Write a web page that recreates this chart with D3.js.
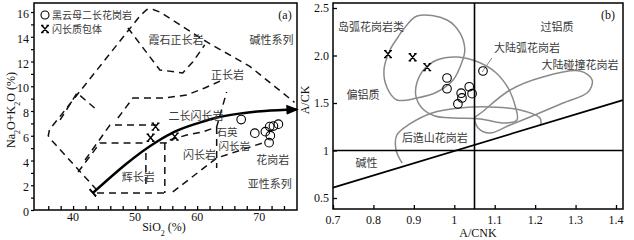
<!DOCTYPE html>
<html><head><meta charset="utf-8">
<script src="https://cdn.jsdelivr.net/npm/d3@7"></script>
<style>
body{margin:0;background:#fff;}
svg{display:block;}
.num{font-family:"Liberation Serif","DejaVu Serif",serif;font-size:12px;fill:#111;}
.cn{font-family:"Noto Sans CJK SC",sans-serif;font-size:11px;fill:#3a3a3a;}
.lg{font-family:"Noto Sans CJK SC",sans-serif;font-size:10px;fill:#3a3a3a;}
</style>
</head><body>
<svg id="c" width="634" height="240"></svg>
<script>
// ---------- Panel (a) data: SiO2 vs Na2O+K2O ----------
const graniteSiO2 = [67.1, 69.3, 71.0, 71.7, 72.3, 73.1, 71.8, 71.6];
const graniteAlk  = [7.31, 6.21, 6.33, 6.74, 6.78, 6.94, 6.01, 5.44];
const enclaveSiO2 = [53.3, 52.5, 56.4];
const enclaveAlk  = [6.74, 5.84, 5.93];
const boundarySiO2 = [43.2, 53.5, 56.4, 60.4, 63.2, 66.8, 70.9, 76.0];
const boundaryAlk  = [1.38, 5.52, 6.33, 7.06, 7.47, 7.79, 8.0, 8.12];
const xTicksA = [40, 50, 60, 70];
const yTicksA = [0, 2, 4, 6, 8, 10, 12, 14, 16];
// field outlines (SiO2, alkali pairs)
const fieldLines = [
  [[43.86,1.6],[36.6,5.6],[36.0,6.0],[36.2,6.5],[50.8,15.7],[51.9,16.2],[52.9,16.2],[54.0,16.0],[61.5,13.6],[68.5,11.6],[75.7,8.7]],
  [[48.84,14.71],[53.99,11.32],[57.68,11.08],[59.29,11.96],[61.22,13.34]],
  [[37.91,7.28],[40.64,9.46],[43.86,8.08]],
  [[47.23,7.44],[49.65,9.05],[54.79,9.05],[58.33,9.30],[61.22,9.86],[64.12,10.51]],
  [[41.93,4.04],[45.95,6.87],[53.50,6.87]],
  [[40.80,3.07],[44.34,5.42],[51.90,5.42]],
  [[51.74,4.61],[51.74,1.78]],
  [[43.86,1.37],[54.79,1.37]],
  [[54.79,5.42],[54.79,1.37]],
  [[53.99,5.42],[55.59,5.42]],
  [[56.08,1.46],[63.15,4.2],[70.55,5.42]],
  [[63.15,6.71],[63.15,3.40]],
  [[55.59,5.66],[58.33,6.06],[60.90,6.31],[63.15,6.71],[64.76,9.54]]
];
const labelsA = [
  ["霞石正长岩", 56.6, 13.42], ["正长岩", 64.9, 10.59], ["碱性系列", 72.0, 13.42],
  ["二长闪长岩", 59.8, 7.28], ["石英", 64.8, 6.02], ["闪长岩", 66.0, 4.85],
  ["闪长岩", 60.4, 4.12], ["辉长岩", 50.5, 2.34], ["花岗岩", 72.2, 3.72], ["亚性系列", 71.7, 1.78]
];

// ---------- Panel (b) data: A/CNK vs A/NK ----------
const graniteACNK = [0.982, 0.982, 1.017, 1.019, 1.009, 1.037, 1.044, 1.071];
const graniteANK  = [1.763, 1.650, 1.603, 1.553, 1.490, 1.671, 1.598, 1.837];
const enclaveACNK = [0.836, 0.897, 0.933];
const enclaveANK  = [2.015, 1.982, 1.878];
const xTicksB = [0.7, 0.8, 0.9, 1.0, 1.1, 1.2, 1.3, 1.4];
const yTicksB = [0.5, 1.0, 1.5, 2.0, 2.5];
const divideLine = [[0.7, 0.61], [1.417, 1.53]];
const iagField = [[0.873,2.268],[0.908,2.416],[0.982,2.374],[1.014,2.237],[1.026,2.058],[1.019,1.932],[0.997,1.742],[0.957,1.616],[0.908,1.553],[0.858,1.532],[0.834,1.658],[0.826,1.847],[0.841,2.058],[0.861,2.195]];
const cagField = [[0.928,1.868],[0.957,1.953],[1.007,1.984],[1.059,1.932],[1.101,1.826],[1.133,1.658],[1.150,1.479],[1.155,1.321],[1.125,1.289],[1.064,1.332],[1.002,1.342],[0.952,1.363],[0.920,1.447],[0.905,1.574],[0.908,1.721]];
const ccgField = [[1.069,1.405],[1.138,1.637],[1.219,1.774],[1.311,1.837],[1.341,1.742],[1.331,1.616],[1.269,1.5],[1.205,1.384],[1.138,1.268],[1.088,1.184],[1.059,1.237],[1.051,1.342]];
const pogField = [[0.871,0.868],[0.856,1.005],[0.858,1.163],[0.890,1.279],[0.945,1.395],[1.014,1.447],[1.088,1.458],[1.163,1.426],[1.212,1.342],[1.214,1.268]];
const cagLeader = [[1.093,1.974],[1.069,1.826]];
const labelsB = [
  ["岛弧花岗岩类", 0.794, 2.258], ["偏铝质", 0.774, 1.542], ["过铝质", 1.254, 2.258],
  ["大陆弧花岗岩", 1.180, 2.037], ["大陆碰撞花岗岩", 1.311, 1.858], ["后造山花岗岩", 0.952, 1.089], ["碱性", 0.783, 0.826]
];

const svg = d3.select("#c");
const defs = svg.append("defs");
defs.append("marker").attr("id","arr").attr("viewBox","0 0 10 10")
  .attr("refX",8).attr("refY",5).attr("markerWidth",5).attr("markerHeight",5).attr("orient","auto")
  .append("path").attr("d","M0,1 L10,5 L0,9 z").attr("fill","#000");
defs.append("marker").attr("id","bar").attr("viewBox","0 0 4 10").attr("markerUnits","userSpaceOnUse")
  .attr("refX",2).attr("refY",5).attr("markerWidth",4).attr("markerHeight",10).attr("orient","auto")
  .append("path").attr("d","M2,0 L2,10").attr("stroke","#000").attr("stroke-width",2);
const crossPath = "M-3,-3.5L3,3.5M3,-3.5L-3,3.5M-4,-3.5H-1.5M1.5,-3.5H4M-4,3.5H-1.5M1.5,3.5H4";

// ===== Panel (a) =====
const xA = d3.scaleLinear().domain([33.7, 76.1]).range([34, 297]);
const yA = d3.scaleLinear().domain([0, 16.73]).range([210, 3]);
const gA = svg.append("g");
gA.append("rect").attr("x",34).attr("y",3).attr("width",263).attr("height",207)
  .attr("fill","none").attr("stroke","#000").attr("stroke-width",1.5);
gA.append("g").attr("transform","translate(0,210)")
  .call(d3.axisBottom(xA).tickValues(d3.range(36,76,2)).tickSize(-4).tickFormat(""))
  .call(g=>{g.select(".domain").remove(); g.selectAll("line").attr("stroke","#000").attr("stroke-width",1.3);});
gA.selectAll(".xl").data(xTicksA).join("text").attr("class","num")
  .attr("x",d=>xA(d)).attr("y",221).attr("text-anchor","middle").text(d=>d);
gA.append("g").attr("transform","translate(34,0)")
  .call(d3.axisLeft(yA).tickValues(d3.range(0,17,1)).tickSize(3).tickFormat(""))
  .call(g=>{g.select(".domain").remove(); g.selectAll("line").attr("stroke","#000").attr("stroke-width",1.2);});
gA.selectAll(".yl").data(yTicksA).join("text").attr("class","num")
  .attr("x",29).attr("y",d=>yA(d)+6).attr("text-anchor","end").text(d=>d);
gA.append("text").attr("class","num").attr("transform","translate(15,110) rotate(-90)")
  .attr("text-anchor","middle").html('Na<tspan baseline-shift="sub" font-size="8">2</tspan>O+K<tspan baseline-shift="sub" font-size="8">2</tspan>O (%)');
gA.append("text").attr("class","num").attr("x",164).attr("y",231).attr("text-anchor","middle")
  .html('SiO<tspan baseline-shift="sub" font-size="8">2</tspan> (%)');

const lineA = d3.line().x(d=>xA(d[0])).y(d=>yA(d[1]));
gA.selectAll(".fl").data(fieldLines).join("path").attr("d",lineA)
  .attr("fill","none").attr("stroke","#111").attr("stroke-width",1.5).attr("stroke-dasharray","7,5");
const bPts = boundarySiO2.map((s,i)=>[s,boundaryAlk[i]]);
gA.append("path").attr("d",d3.line().x(d=>xA(d[0])).y(d=>yA(d[1])).curve(d3.curveMonotoneX)(bPts))
  .attr("fill","none").attr("stroke","#000").attr("stroke-width",2.5)
  .attr("marker-end","url(#arr)").attr("marker-start","url(#bar)");
gA.selectAll(".lab").data(labelsA).join("text").attr("class","cn")
  .attr("x",d=>xA(d[1])).attr("y",d=>yA(d[2])).attr("text-anchor","middle")
  .style("font-size",d=>(d[0]==="石英"||(d[0]==="闪长岩"&&d[1]>65))?"10.5px":null).text(d=>d[0]);
gA.append("text").attr("class","num").attr("x",285).attr("y",19).attr("text-anchor","middle").text("(a)");
gA.selectAll(".gc").data(graniteSiO2).join("circle")
  .attr("cx",d=>xA(d)).attr("cy",(d,i)=>yA(graniteAlk[i])).attr("r",4.3)
  .attr("fill","none").attr("stroke","#000").attr("stroke-width",1.1);
gA.selectAll(".ec").data(enclaveSiO2).join("path").attr("d",crossPath)
  .attr("transform",(d,i)=>`translate(${xA(d)},${yA(enclaveAlk[i])})`)
  .attr("fill","none").attr("stroke","#000").attr("stroke-width",1.4);
gA.append("circle").attr("cx",45).attr("cy",15).attr("r",4).attr("fill","none").attr("stroke","#000").attr("stroke-width",1.1);
gA.append("text").attr("class","lg").attr("x",52).attr("y",19).text("黑云母二长花岗岩");
gA.append("path").attr("d",crossPath).attr("transform","translate(45,29)").attr("fill","none").attr("stroke","#000").attr("stroke-width",1.4);
gA.append("text").attr("class","lg").attr("x",52).attr("y",33).text("闪长质包体");

// ===== Panel (b) =====
const xB = d3.scaleLinear().domain([0.7, 1.4]).range([333, 616]);
const yB = d3.scaleLinear().domain([0.5, 2.5]).range([198, 8]);
const gB = svg.append("g");
gB.append("rect").attr("x",333).attr("y",3).attr("width",290).attr("height",206)
  .attr("fill","none").attr("stroke","#000").attr("stroke-width",1.5);
gB.append("g").attr("transform","translate(0,209)")
  .call(d3.axisBottom(xB).tickValues(xTicksB).tickSize(-4).tickFormat(""))
  .call(g=>{g.select(".domain").remove(); g.selectAll("line").attr("stroke","#000").attr("stroke-width",1.3);});
gB.selectAll(".xl").data(xTicksB).join("text").attr("class","num")
  .attr("x",d=>xB(d)).attr("y",224).attr("text-anchor","middle").text(d=>d===1?"1":d3.format(".1f")(d));
gB.append("g").attr("transform","translate(333,0)")
  .call(d3.axisLeft(yB).tickValues(yTicksB).tickSize(-4).tickFormat(""))
  .call(g=>{g.select(".domain").remove(); g.selectAll("line").attr("stroke","#000").attr("stroke-width",1.3);});
gB.selectAll(".yl").data(yTicksB).join("text").attr("class","num")
  .attr("x",329).attr("y",d=>yB(d)+4).attr("text-anchor","end").text(d=>d===1?"1":d3.format(".1f")(d));
gB.append("text").attr("class","num").attr("transform","translate(309,100) rotate(-90)")
  .attr("text-anchor","middle").text("A/CK");
gB.append("text").attr("class","num").attr("x",478).attr("y",237).attr("text-anchor","middle").text("A/CNK");

const lineB = d3.line().x(d=>xB(d[0])).y(d=>yB(d[1]));
const loopB = d3.line().x(d=>xB(d[0])).y(d=>yB(d[1])).curve(d3.curveCatmullRomClosed);
const openB = d3.line().x(d=>xB(d[0])).y(d=>yB(d[1])).curve(d3.curveCatmullRom);
gB.selectAll(".loop").data([iagField,cagField,ccgField]).join("path").attr("d",loopB)
  .attr("fill","none").attr("stroke","#8a8a8a").attr("stroke-width",1.5);
gB.append("path").attr("d",openB(pogField)).attr("fill","none").attr("stroke","#8a8a8a").attr("stroke-width",1.5);
gB.append("path").attr("d",lineB(cagLeader)).attr("fill","none").attr("stroke","#8a8a8a").attr("stroke-width",1);
gB.append("line").attr("x1",xB(1.05)).attr("x2",xB(1.05)).attr("y1",3).attr("y2",209).attr("stroke","#000").attr("stroke-width",1.6);
gB.append("line").attr("x1",333).attr("x2",623).attr("y1",yB(1)).attr("y2",yB(1)).attr("stroke","#000").attr("stroke-width",1.6);
gB.append("path").attr("d",lineB(divideLine)).attr("stroke","#000").attr("stroke-width",1.8).attr("fill","none");
gB.selectAll(".lab").data(labelsB).join("text").attr("class","cn")
  .attr("x",d=>xB(d[1])).attr("y",d=>yB(d[2])).attr("text-anchor","middle").text(d=>d[0]);
gB.append("text").attr("class","num").attr("x",608).attr("y",19).attr("text-anchor","middle").text("(b)");
gB.selectAll(".gc").data(graniteACNK).join("circle")
  .attr("cx",d=>xB(d)).attr("cy",(d,i)=>yB(graniteANK[i])).attr("r",4.3)
  .attr("fill","none").attr("stroke","#000").attr("stroke-width",1.1);
gB.selectAll(".ec").data(enclaveACNK).join("path").attr("d",crossPath)
  .attr("transform",(d,i)=>`translate(${xB(d)},${yB(enclaveANK[i])})`)
  .attr("fill","none").attr("stroke","#000").attr("stroke-width",1.4);
</script>
</body></html>
